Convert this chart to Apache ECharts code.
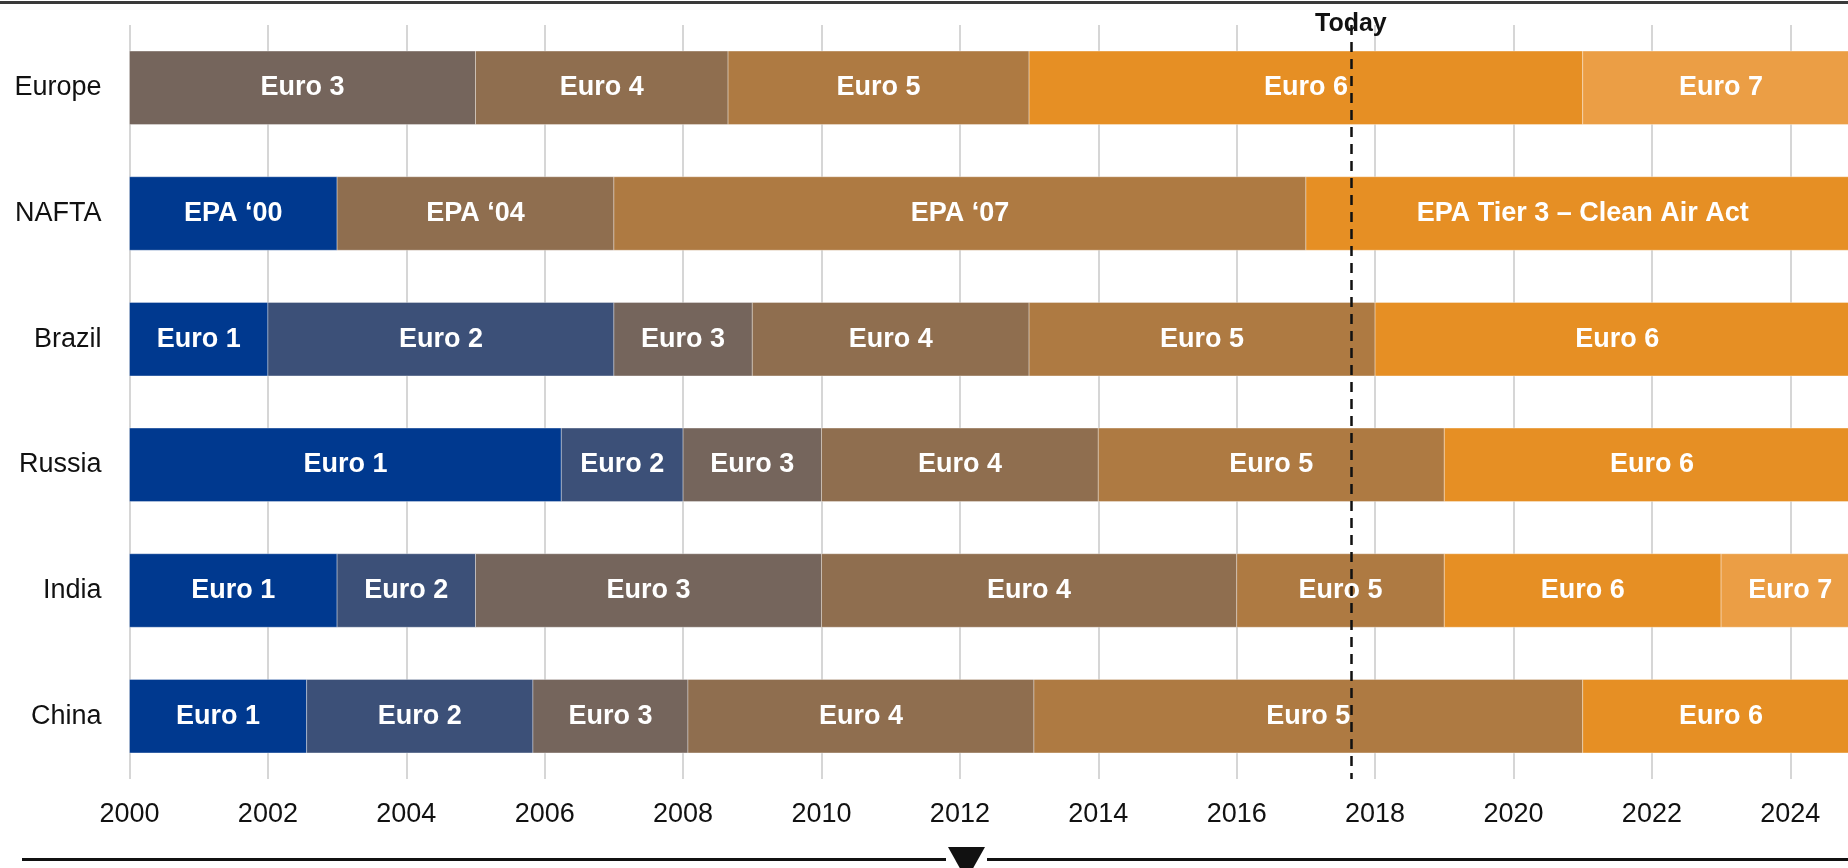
<!DOCTYPE html>
<html>
<head>
<meta charset="utf-8">
<title>Emission standards timeline</title>
<script src="https://cdn.jsdelivr.net/npm/echarts@6/dist/echarts.min.js"></script>
<style>
  html, body { margin: 0; padding: 0; background: #fff; }
  #chart { width: 1848px; height: 868px; }
</style>
</head>
<body>
<div id="chart"></div>
<script>
// regions, top to bottom
const regions = ['Europe', 'NAFTA', 'Brazil', 'Russia', 'India', 'China']

// phase boundaries (years) and labels per region
const europeBounds = [2000, 2005, 2008.65, 2013, 2021, 2025]
const europeLabels = ['Euro 3', 'Euro 4', 'Euro 5', 'Euro 6', 'Euro 7']
const naftaBounds = [2000, 2003, 2007, 2017, 2025]
const naftaLabels = ['EPA \u201800', 'EPA \u201804', 'EPA \u201807', 'EPA Tier 3 \u2013 Clean Air Act']
const brazilBounds = [2000, 2002, 2007, 2009, 2013, 2018, 2025]
const brazilLabels = ['Euro 1', 'Euro 2', 'Euro 3', 'Euro 4', 'Euro 5', 'Euro 6']
const russiaBounds = [2000, 2006.24, 2008, 2010, 2014, 2019, 2025]
const russiaLabels = ['Euro 1', 'Euro 2', 'Euro 3', 'Euro 4', 'Euro 5', 'Euro 6']
const indiaBounds = [2000, 2003, 2005, 2010, 2016, 2019, 2023, 2025]
const indiaLabels = ['Euro 1', 'Euro 2', 'Euro 3', 'Euro 4', 'Euro 5', 'Euro 6', 'Euro 7']
const chinaBounds = [2000, 2002.56, 2005.83, 2008.07, 2013.07, 2021, 2025]
const chinaLabels = ['Euro 1', 'Euro 2', 'Euro 3', 'Euro 4', 'Euro 5', 'Euro 6']

// which colour step each label uses (0 = Euro 1 ... 6 = Euro 7)
const naftaSteps = [0, 3, 4, 5]

const xTicks = [2000, 2002, 2004, 2006, 2008, 2010, 2012, 2014, 2016, 2018, 2020, 2022, 2024]
const today = 2017.65

const stepColors = ['#00398f', '#3c5078', '#75655c', '#8f6e4f', '#ae7a42', '#e68f24', '#eb9e45']
const FONT = "'Liberation Sans Narrow', 'Arial Narrow', 'Liberation Sans', Arial, sans-serif"

function stepOf(label, regionIdx, i) {
  if (regionIdx === 1) return naftaSteps[i]
  return parseInt(label.replace('Euro ', ''), 10) - 1
}

const allBounds = [europeBounds, naftaBounds, brazilBounds, russiaBounds, indiaBounds, chinaBounds]
const allLabels = [europeLabels, naftaLabels, brazilLabels, russiaLabels, indiaLabels, chinaLabels]

const segments = []
allBounds.forEach((bounds, r) => {
  allLabels[r].forEach((label, i) => {
    segments.push([r, bounds[i], bounds[i + 1], label, stepOf(label, r, i)])
  })
})

const chart = echarts.init(document.getElementById('chart'))

chart.setOption({
  animation: false,
  backgroundColor: '#fff',
  grid: {
    left: 129.5,
    right: -11.5,
    top: 25,
    bottom: 89,
    containLabel: false,
    outerBoundsMode: 'none',
  },
  xAxis: {
    type: 'value',
    min: xTicks[0],
    max: 2025,
    interval: 2,
    axisLine: { show: false },
    axisTick: { show: false },
    splitLine: { show: true, lineStyle: { color: '#d6d6d6', width: 2 } },
    axisLabel: {
      margin: 22,
      color: '#111',
      fontSize: 27,
      fontFamily: FONT,
      formatter: (v) => (xTicks.includes(v) ? String(v) : ''),
    },
  },
  yAxis: {
    type: 'category',
    inverse: true,
    data: regions,
    axisLine: { show: false },
    axisTick: { show: false },
    splitLine: { show: false },
    axisLabel: {
      margin: 28,
      color: '#111',
      fontSize: 27,
      fontFamily: FONT,
    },
  },
  series: [
    {
      type: 'custom',
      data: segments,
      encode: { x: [1, 2], y: 0 },
      renderItem: function (params, api) {
        const row = api.value(0)
        const start = api.coord([api.value(1), row])
        const end = api.coord([api.value(2), row])
        const h = api.size([0, 1])[1] * 0.585
        return {
          type: 'rect',
          shape: { x: start[0], y: start[1] - h / 2, width: end[0] - start[0], height: h },
          style: {
            fill: stepColors[api.value(4)],
            stroke: 'rgba(255,255,255,0.35)',
            lineWidth: 1,
          },
          textContent: {
            style: {
              text: api.value(3),
              fill: '#fff',
              fontSize: 27,
              fontWeight: 'bold',
              fontFamily: FONT,
            },
          },
          textConfig: { position: 'inside' },
        }
      },
      markLine: {
        silent: true,
        symbol: 'none',
        data: [{ xAxis: today }],
        lineStyle: { color: '#111', width: 2.5, type: [10, 7] },
        label: {
          show: true,
          position: 'start',
          formatter: 'Today',
          color: '#111',
          fontSize: 25,
          fontWeight: 'bold',
          fontFamily: FONT,
          distance: -12,
        },
      },
    },
  ],
  graphic: [
    {
      type: 'line',
      shape: { x1: 0, y1: 2.5, x2: 1848, y2: 2.5 },
      style: { stroke: '#3a3a3a', lineWidth: 3 },
    },
    {
      type: 'line',
      shape: { x1: 22, y1: 859.5, x2: 946, y2: 859.5 },
      style: { stroke: '#111', lineWidth: 3 },
    },
    {
      type: 'line',
      shape: { x1: 987, y1: 859.5, x2: 1848, y2: 859.5 },
      style: { stroke: '#111', lineWidth: 3 },
    },
    {
      type: 'polygon',
      shape: { points: [[948, 847], [985, 847], [966.5, 880]] },
      style: { fill: '#111' },
    },
  ],
})
</script>
</body>
</html>
